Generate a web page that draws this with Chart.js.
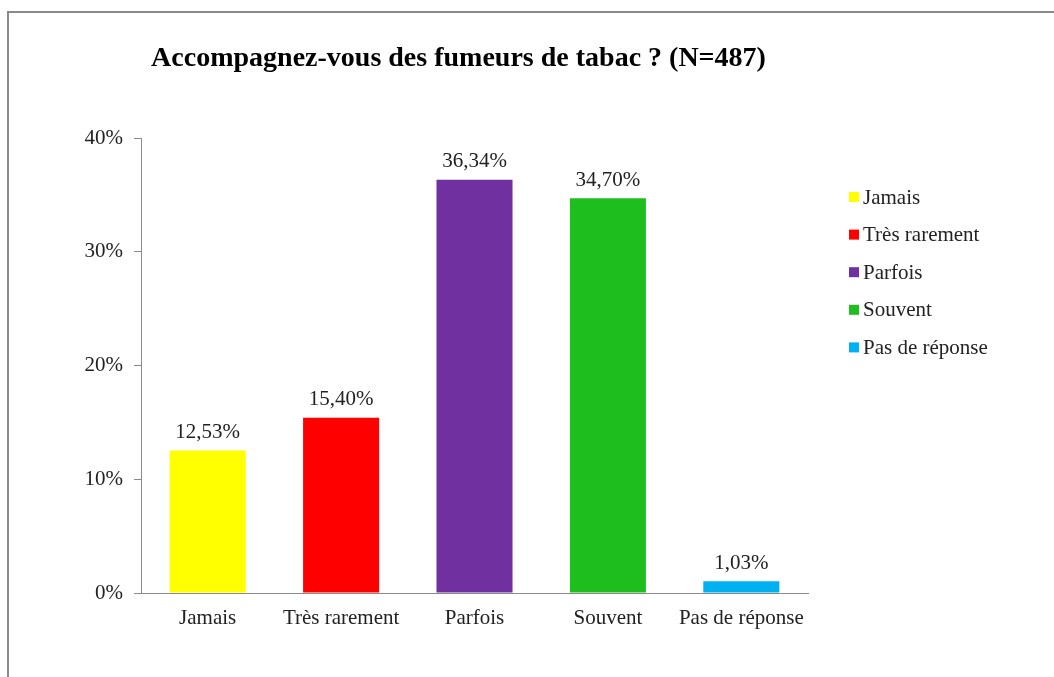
<!DOCTYPE html>
<html>
<head>
<meta charset="utf-8">
<script src="https://cdn.jsdelivr.net/npm/chart.js@4"></script>
<style>
  html, body { margin: 0; padding: 0; background: #fff; }
  #wrap { position: relative; width: 1054px; height: 677px; overflow: hidden; }
  #frame { position: absolute; left: 7px; top: 11px; width: 1100px; height: 700px;
           border-left: 2px solid #8a8a8a; border-top: 2px solid #8a8a8a; }
  canvas { position: absolute; left: 0; top: 0; }
</style>
</head>
<body>
<div id="wrap">
  <div id="frame"></div>
  <canvas id="barChart" width="1054" height="677"></canvas>
</div>
<script>
const categories = ['Jamais', 'Très rarement', 'Parfois', 'Souvent', 'Pas de réponse'];
const values = [12.53, 15.40, 36.34, 34.70, 1.03];
const colors = ['#ffff00', '#ff0000', '#7030a0', '#1ebe1e', '#00b0f0'];
const tickLabels = ['0%', '10%', '20%', '30%', '40%'];
const chartTitle = 'Accompagnez-vous des fumeurs de tabac ? (N=487)';

const serif = '"Liberation Serif", "Times New Roman", serif';

function frNum(v) {
    return v.toFixed(2).replace('.', ',') + '%';
}

// titre (décalé par rapport à la zone du graphique, comme dans Excel)
const titleText = {
    id: 'titleText',
    afterDraw(chart) {
        const ctx = chart.ctx;
        ctx.save();
        ctx.font = 'bold 28px ' + serif;
        ctx.fillStyle = '#000';
        ctx.textAlign = 'center';
        ctx.textBaseline = 'middle';
        ctx.fillText(chartTitle, (chart.chartArea.left + chart.chartArea.right) / 2 - 16, 59);
        ctx.restore();
    }
};

// etiquettes de valeur au-dessus des barres
const valueLabels = {
    id: 'valueLabels',
    afterDatasetsDraw(chart) {
        const ctx = chart.ctx;
        const meta = chart.getDatasetMeta(0);
        ctx.save();
        ctx.font = '21px ' + serif;
        ctx.fillStyle = '#222';
        ctx.textAlign = 'center';
        ctx.textBaseline = 'middle';
        meta.data.forEach((bar, i) => {
            ctx.fillText(frNum(values[i]), bar.x, bar.y - 18);
        });
        ctx.restore();
    }
};

// légende à droite, une entrée par catégorie
const sideLegend = {
    id: 'sideLegend',
    afterDraw(chart) {
        const ctx = chart.ctx;
        const area = chart.chartArea;
        const x0 = area.right + 41;
        const y0 = area.top + 59;
        ctx.save();
        ctx.font = '21px ' + serif;
        ctx.textBaseline = 'middle';
        categories.forEach((c, i) => {
            const y = y0 + i * 37.6;
            ctx.fillStyle = colors[i];
            ctx.fillRect(x0, y - 5, 10, 10);
            ctx.fillStyle = '#222';
            ctx.fillText(c, x0 + 14, y + 1);
        });
        ctx.restore();
    }
};

const ctx = document.getElementById('barChart').getContext('2d');
const myChart = new Chart(ctx, {
    type: 'bar',
    data: {
        labels: categories,
        datasets: [{
            data: values,
            backgroundColor: colors,
            borderWidth: 0,
            barPercentage: 0.57,
            categoryPercentage: 1.0
        }]
    },
    options: {
        responsive: false,
        animation: false,
        layout: { padding: { left: 0, right: 246, top: 138, bottom: 0 } },
        plugins: {
            legend: { display: false },
            tooltip: { enabled: false },
            title: { display: false }
        },
        scales: {
            x: {
                afterFit: s => { s.height = 84; },
                grid: { display: false, drawTicks: false },
                border: { display: true, color: '#8a8a8a', width: 1 },
                ticks: { color: '#222', font: { family: serif, size: 21 }, padding: 13 }
            },
            y: {
                min: 0,
                max: 40,
                afterFit: s => { s.width = 141; },
                grid: { drawOnChartArea: false, drawTicks: true, tickLength: 7, color: '#8a8a8a' },
                border: { display: true, color: '#8a8a8a', width: 1 },
                ticks: {
                    stepSize: 10,
                    padding: 11,
                    color: '#222',
                    font: { family: serif, size: 21 },
                    callback: (v, i) => tickLabels[i]
                }
            }
        }
    },
    plugins: [valueLabels, sideLegend, titleText]
});
</script>
</body>
</html>
